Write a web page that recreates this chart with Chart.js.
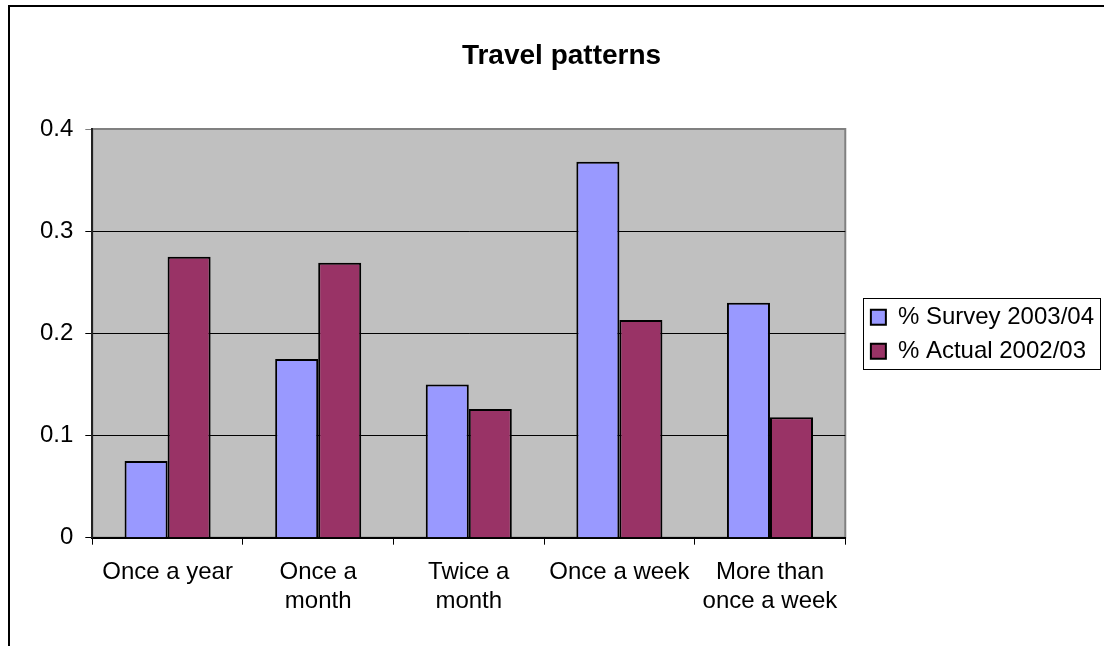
<!DOCTYPE html>
<html>
<head>
<meta charset="utf-8">
<title>Travel patterns</title>
<script src="https://cdn.jsdelivr.net/npm/chart.js@4/dist/chart.umd.min.js"></script>
<style>
  html, body { margin: 0; padding: 0; background: #ffffff; }
  canvas { display: block; }
</style>
</head>
<body>
<canvas id="chart" width="1104" height="646"></canvas>
<script>
// Categories and series
const categories = [
  'Once a year',
  ['Once a', 'month'],
  ['Twice a', 'month'],
  'Once a week',
  ['More than', 'once a week']
];
const survey2003 = [0.075, 0.175, 0.150, 0.368, 0.230];
const actual2002 = [0.275, 0.269, 0.126, 0.213, 0.118];
const yTickValues = [0, 0.1, 0.2, 0.3, 0.4];

const FONT = '"Liberation Sans", Arial, Helvetica, sans-serif';
Chart.defaults.font.family = FONT;
Chart.defaults.color = '#000000';

// Page frame and grey plot background
const framePlugin = {
  id: 'frame',
  beforeDraw(chart) {
    const { ctx, chartArea: a, width, height } = chart;
    ctx.save();
    ctx.fillStyle = '#ffffff';
    ctx.fillRect(0, 0, width, height);
    ctx.strokeStyle = '#000000';
    ctx.lineWidth = 2;
    ctx.beginPath();
    ctx.moveTo(9, height + 5);
    ctx.lineTo(9, 6);
    ctx.lineTo(width + 5, 6);
    ctx.stroke();
    ctx.fillStyle = '#C0C0C0';
    ctx.fillRect(a.left, a.top, a.right - a.left, a.bottom - a.top);
    ctx.strokeStyle = '#808080';
    ctx.lineWidth = 2;
    ctx.strokeRect(a.left, a.top, a.right - a.left, a.bottom - a.top);
    ctx.restore();
  }
};

// Border round the legend entries
const legendFramePlugin = {
  id: 'legendFrame',
  afterDraw(chart) {
    const boxes = chart.legend && chart.legend.legendHitBoxes;
    if (!boxes || !boxes.length) return;
    let l = Infinity, t = Infinity, r = -Infinity, b = -Infinity;
    boxes.forEach(h => {
      l = Math.min(l, h.left); t = Math.min(t, h.top);
      r = Math.max(r, h.left + h.width); b = Math.max(b, h.top + h.height);
    });
    const ctx = chart.ctx;
    ctx.save();
    ctx.strokeStyle = '#000000';
    ctx.lineWidth = 1;
    ctx.strokeRect(Math.round(l - 7.4) + 0.5, Math.round(t - 7) + 0.5,
                   Math.round(r - l + 13.4), Math.round(b - t + 12.7));
    ctx.restore();
  }
};

new Chart(document.getElementById('chart'), {
  type: 'bar',
  data: {
    labels: categories,
    datasets: [
      {
        label: '% Survey 2003/04',
        data: survey2003,
        backgroundColor: '#9999FF',
        borderColor: '#000000',
        borderWidth: 2
      },
      {
        label: '% Actual 2002/03',
        data: actual2002,
        backgroundColor: '#993366',
        borderColor: '#000000',
        borderWidth: 2
      }
    ]
  },
  options: {
    responsive: false,
    animation: false,
    events: [],
    layout: { padding: { left: 19, right: 0, top: 30, bottom: 7.4 } },
    datasets: {
      bar: { categoryPercentage: 2 / 3.5, barPercentage: 1 }
    },
    scales: {
      x: {
        grid: {
          display: true,
          drawOnChartArea: false,
          drawTicks: true,
          tickLength: 7,
          color: '#000000',
          lineWidth: 1
        },
        border: { display: true, color: '#000000', width: 2 },
        ticks: {
          autoSkip: false,
          maxRotation: 0,
          minRotation: 0,
          padding: 13,
          color: '#000000',
          font: { size: 24, family: FONT, lineHeight: 1.2 }
        },
        afterFit(scale) { scale.height = 646 - 7.4 - 537.7; }
      },
      y: {
        min: 0,
        max: 0.4,
        afterBuildTicks(scale) {
          scale.ticks = yTickValues.map(v => ({ value: v }));
        },
        ticks: {
          padding: 12,
          color: '#000000',
          font: { size: 24, family: FONT },
          callback: v => String(Math.round(v * 10) / 10)
        },
        grid: {
          tickLength: 7,
          lineWidth: 1,
          color: ctx => (ctx.tick && ctx.tick.value >= 0.4 ? '#808080' : '#000000')
        },
        border: { display: true, color: '#222222', width: 2 },
        afterFit(scale) { scale.width = 92.3 - 19; }
      },
      gap: {
        type: 'linear',
        position: 'right',
        display: false,
        afterFit(scale) { scale.width = 15.6; }
      }
    },
    plugins: {
      title: {
        display: true,
        text: 'Travel patterns',
        color: '#000000',
        font: { size: 28, weight: 'bold', family: FONT, lineHeight: 1.2 },
        padding: { top: 9.4, bottom: 56 }
      },
      legend: {
        display: true,
        position: 'right',
        labels: {
          boxWidth: 15,
          boxHeight: 15,
          padding: 10,
          color: '#000000',
          font: { size: 24, family: FONT }
        }
      },
      tooltip: { enabled: false }
    }
  },
  plugins: [framePlugin, legendFramePlugin]
});
</script>
</body>
</html>
